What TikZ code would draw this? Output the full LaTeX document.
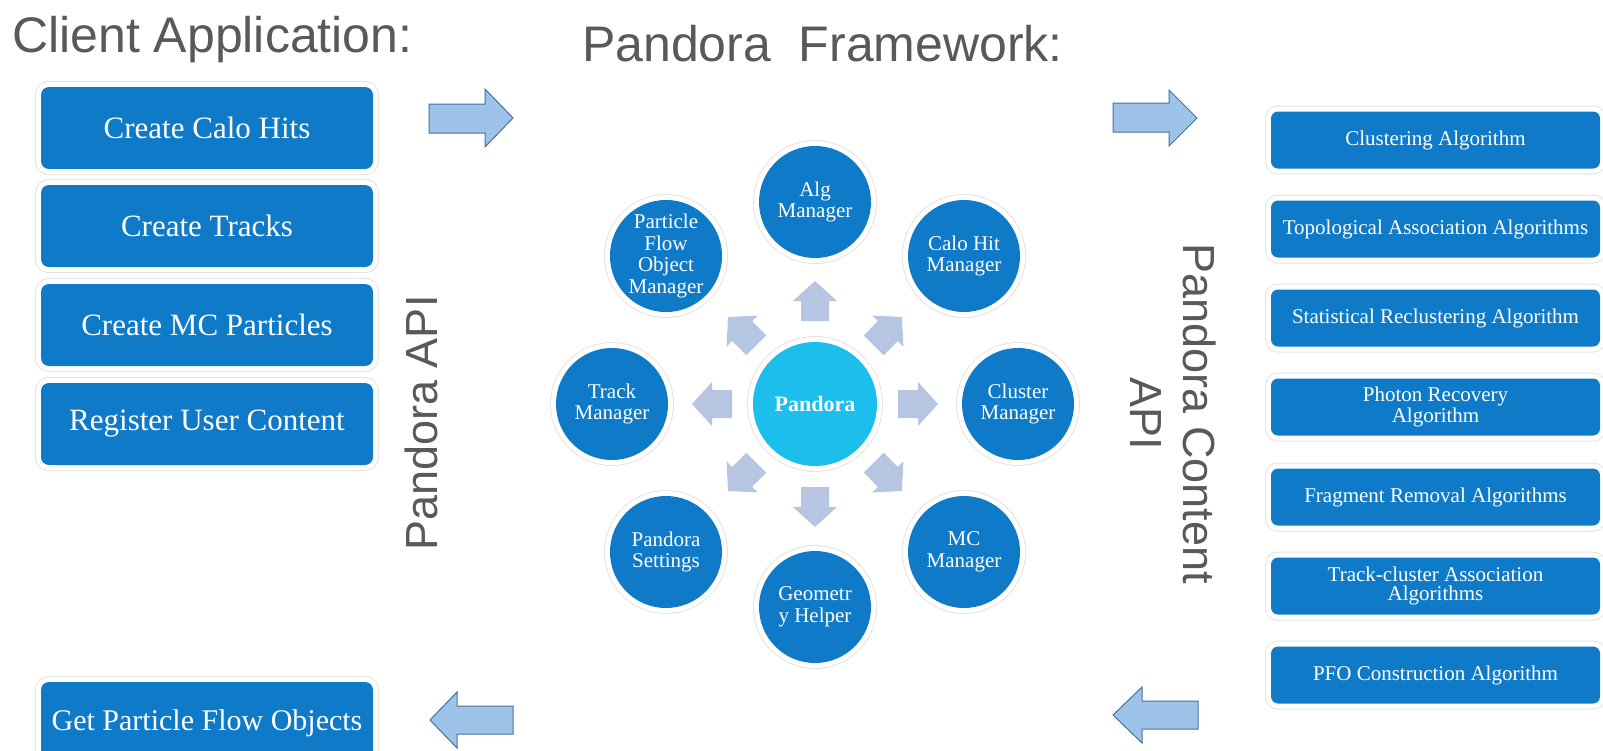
\documentclass[tikz,border=0pt]{standalone}
\usepackage{fontspec}
\setmainfont{Liberation Serif}
\newfontfamily\titlesans{Liberation Sans}
\definecolor{boxblue}{RGB}{14,122,200}
\definecolor{corecyan}{RGB}{28,190,236}
\definecolor{titlegray}{RGB}{89,89,89}
\definecolor{ringgray}{RGB}{228,228,228}
\definecolor{smallarrow}{RGB}{182,197,226}
\definecolor{bigfill}{RGB}{157,195,232}
\definecolor{bigdraw}{RGB}{70,114,160}
\begin{document}
\begin{tikzpicture}[x=1pt,y=-1pt,
  ring/.style={preaction={draw=ringgray,line width=12pt},preaction={draw=white,line width=10pt}},
  lbox/.style={ring, rectangle, rounded corners=8pt, fill=boxblue, text=white,
    minimum width=332pt, minimum height=82pt, inner sep=0pt, align=center,
    font=\fontsize{31}{36}\selectfont},
  rbox/.style={ring, rectangle, rounded corners=7pt, fill=boxblue, text=white,
    minimum width=329pt, minimum height=57pt, inner sep=0pt, align=center,
    font=\fontsize{21}{19}\selectfont},
  sat/.style={ring, circle, fill=boxblue, text=white, minimum size=112pt,
    inner sep=0pt, align=center, font=\fontsize{21}{21.5}\selectfont},
  core/.style={ring, circle, fill=corecyan, text=white, minimum size=124pt,
    inner sep=0pt, font=\bfseries\fontsize{22}{24}\selectfont},
  title/.style={inner sep=0pt, text=titlegray, anchor=base west},
  vtitle/.style={inner sep=0pt, text=titlegray, align=center,
    font=\titlesans\fontsize{45}{53}\selectfont},
  bigarrow/.style={fill=bigfill, draw=bigdraw, line width=1pt, line join=miter},
  minarrow/.style={fill=smallarrow}
]
\useasboundingbox[fill=white] (0,0) rectangle (1603,750);

% titles
\node[title, font=\titlesans\fontsize{50}{56}\selectfont] (tclient) at (12,52) {Client Application:};
\node[title, font=\titlesans\fontsize{50}{56}\selectfont] (tframe) at (582,61) {Pandora\ \ Framework:};
\node[vtitle, rotate=90] (tapi) at (421,423) {Pandora API};
\node[vtitle, rotate=-90] (tcontent) at (1173,414) {Pandora Content\\API};

% client application boxes
\node[lbox] (calo) at (207,128) {Create Calo Hits};
\node[lbox] (tracks) at (207,226) {Create Tracks};
\node[lbox] (mcp) at (207,325) {Create MC Particles};
\node[lbox] (reg) at (207,424) {Register User Content};
\node[lbox, font=\fontsize{30}{36}\selectfont] (getpfo) at (207,723) {Get Particle Flow Objects};

% content algorithms
\node[rbox] (a1) at (1435.5,140) {Clustering Algorithm};
\node[rbox] (a2) at (1435.5,229) {Topological Association Algorithms};
\node[rbox] (a3) at (1435.5,318) {Statistical Reclustering Algorithm};
\node[rbox] (a4) at (1435.5,407) {Photon Recovery\\Algorithm};
\node[rbox] (a5) at (1435.5,497) {Fragment Removal Algorithms};
\node[rbox] (a6) at (1435.5,586) {Track-cluster Association\\Algorithms};
\node[rbox] (a7) at (1435.5,675) {PFO Construction Algorithm};

% framework
\node[core] (pandora) at (815,404) {Pandora};
\node[sat] (alg) at (815,202) {Alg\\Manager};
\node[sat] (calohit) at (964,256) {Calo Hit\\Manager};
\node[sat] (cluster) at (1018,404) {Cluster\\Manager};
\node[sat] (mcman) at (964,552) {MC\\Manager};
\node[sat] (geom) at (815,607) {Geometr\\y Helper};
\node[sat] (settings) at (666,552) {Pandora\\Settings};
\node[sat] (trackman) at (612,404) {Track\\Manager};
\node[sat] (pfoman) at (666,256) {Particle\\Flow\\Object\\Manager};

\foreach \a in {0,45,...,315}
  \fill[minarrow, shift={(pandora.center)}, rotate=\a]
    (83,-14) -- (103,-14) -- (103,-22) -- (123,0) -- (103,22) -- (103,14) -- (83,14) -- cycle;

% big block arrows
\draw[bigarrow] (429,104) -- (485,104) -- (485,89) -- (513,118) -- (485,147) -- (485,133) -- (429,133) -- cycle;
\draw[bigarrow] (1113,103) -- (1169,103) -- (1169,90) -- (1197,118) -- (1169,146) -- (1169,132) -- (1113,132) -- cycle;
\draw[bigarrow] (1198,701) -- (1142,701) -- (1142,687) -- (1113,715) -- (1142,743) -- (1142,729) -- (1198,729) -- cycle;
\draw[bigarrow] (513,706) -- (457,706) -- (457,692) -- (430,720) -- (457,748) -- (457,734) -- (513,734) -- cycle;
\end{tikzpicture}
\end{document}
